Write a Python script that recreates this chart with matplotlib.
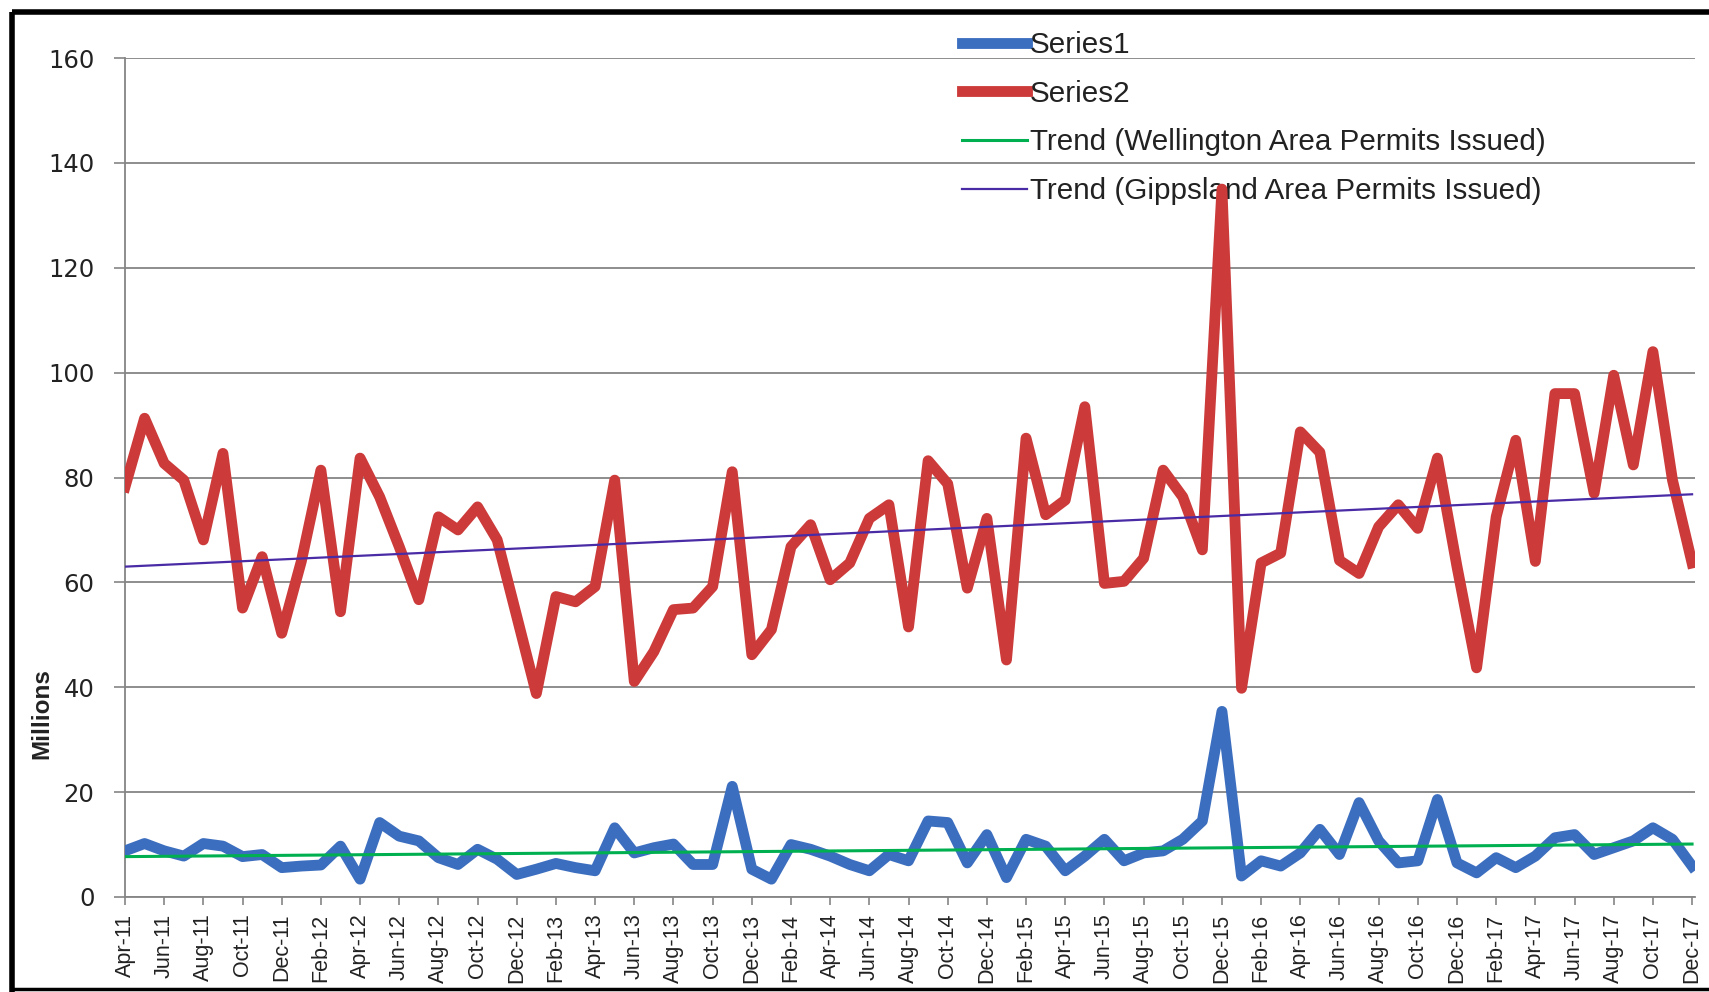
import matplotlib
matplotlib.use('Agg')
import matplotlib.pyplot as plt
from matplotlib.lines import Line2D
import numpy as np
import pandas as pd

# months Apr-11 .. Dec-17
months = pd.date_range('2011-04-01', periods=81, freq='MS').strftime('%b-%y').tolist()

# Series1 (Wellington), millions
wellington = [8.8, 10.2, 8.8, 7.8, 10.2, 9.7, 7.7, 8.1, 5.6, 5.9,
              6.1, 9.7, 3.4, 14.2, 11.6, 10.7, 7.5, 6.2, 9.1, 7.2,
              4.3, 5.3, 6.4, 5.6, 5.0, 13.2, 8.4, 9.4, 10.1, 6.2,
              6.2, 21.1, 5.3, 3.4, 10.0, 9.1, 7.8, 6.2, 5.0, 8.1,
              6.9, 14.5, 14.2, 6.5, 11.9, 3.7, 11.0, 9.7, 5.0, 7.8,
              11.0, 6.9, 8.4, 8.8, 11.0, 14.5, 35.4, 4.0, 6.9, 5.9,
              8.4, 12.9, 8.1, 18.0, 10.7, 6.5, 6.9, 18.6, 6.5, 4.6,
              7.5, 5.6, 7.8, 11.3, 11.9, 8.1, 9.4, 10.7, 13.2, 11.0,
              5.9]

# Series2 (Gippsland), millions
gippsland = [78.2, 91.3, 82.7, 79.5, 68.1, 84.6, 55.1, 64.9, 50.3, 64.0,
             81.4, 54.4, 83.7, 76.3, 66.8, 56.7, 72.5, 70.0, 74.4, 68.1,
             53.5, 38.8, 57.3, 56.3, 59.2, 79.5, 41.1, 46.8, 54.8, 55.1,
             59.2, 81.1, 46.2, 51.0, 66.8, 71.0, 60.5, 63.7, 72.2, 74.8,
             51.5, 83.2, 78.8, 58.9, 72.2, 45.2, 87.5, 72.9, 75.7, 93.5,
             59.8, 60.2, 64.6, 81.4, 76.3, 66.2, 135.0, 39.8, 63.7, 65.6,
             88.7, 84.8, 64.2, 61.7, 70.6, 74.8, 70.3, 83.7, 63.0, 43.7,
             72.5, 87.1, 64.0, 96.0, 96.0, 77.0, 99.5, 82.4, 104.0, 79.5,
             63.7]

# trend line end values (first / last month)
wellington_trend = [7.7, 10.1]
gippsland_trend = [63.0, 76.8]

labels = ['Series1', 'Series2',
          'Trend (Wellington Area Permits Issued)',
          'Trend (Gippsland Area Permits Issued)']

W, H = 1709, 992
fig = plt.figure(figsize=(W / 100, H / 100), dpi=100)
ax = fig.add_axes([125 / W, 1 - 897 / H, (1695 - 125) / W, (897 - 58) / H])

x = np.arange(len(months))
grid_c = '#858585'

ax.plot(x, wellington, color='#3C6EBF', lw=7.8, zorder=4, label=labels[0])
ax.plot(x, gippsland, color='#CC3A3A', lw=7.8, zorder=4, label=labels[1])
ax.plot([x[0], x[-1]], wellington_trend, color='#00B050', lw=2.2, zorder=5, label=labels[2])
ax.plot([x[0], x[-1]], gippsland_trend, color='#4A2BA6', lw=1.6, zorder=5, label=labels[3])

ax.set_xlim(0, 80.15)
ax.set_ylim(0, 160)
ax.set_yticks(range(0, 161, 20))
ax.yaxis.grid(True, color=grid_c, lw=1.3)
ax.set_axisbelow(True)
ax.tick_params(axis='y', length=8, width=1.2, color=grid_c, pad=14,
               labelsize=17.5, labelcolor='#222222')
for lab in ax.get_yticklabels():
    lab.set_family('DejaVu Sans')

ax.set_xticks(x[::2])
ax.set_xticklabels(months[::2], rotation=90, fontsize=15.5,
                   family='Liberation Sans', color='#222222')
ax.tick_params(axis='x', length=6, width=1.2, color=grid_c, pad=6)

for s in ['top', 'right']:
    ax.spines[s].set_visible(False)
for s in ['left', 'bottom']:
    ax.spines[s].set_color(grid_c)
    ax.spines[s].set_linewidth(1.3)

fig.text(42 / W, 1 - 714 / H, 'Millions', rotation=90, ha='center', va='center',
         fontsize=17.5, fontweight='bold', family='Liberation Sans', color='#222222')

leg = ax.legend(loc='upper left', bbox_to_anchor=(962 / W, 1 - 31 / H),
                bbox_transform=fig.transFigure, frameon=False,
                prop={'family': 'Liberation Sans', 'size': 21.3},
                handlelength=2.2, handletextpad=0.1, labelspacing=0.7,
                borderpad=0, borderaxespad=0)
leg.set_zorder(3)
for t in leg.get_texts():
    t.set_color('#222222')

# black frame of the screenshot
fig.add_artist(Line2D([12 / W, 1], [1 - 12 / H, 1 - 12 / H], color='black', lw=4,
                      transform=fig.transFigure, solid_capstyle='butt'))
fig.add_artist(Line2D([12 / W, 12 / W], [1 - 12 / H, 0], color='black', lw=4,
                      transform=fig.transFigure, solid_capstyle='butt'))
fig.add_artist(Line2D([12 / W, 1], [1 - 989 / H, 1 - 989 / H], color='black', lw=2.5,
                      transform=fig.transFigure, solid_capstyle='butt'))

fig.savefig('out.png', dpi=100, facecolor='white')
